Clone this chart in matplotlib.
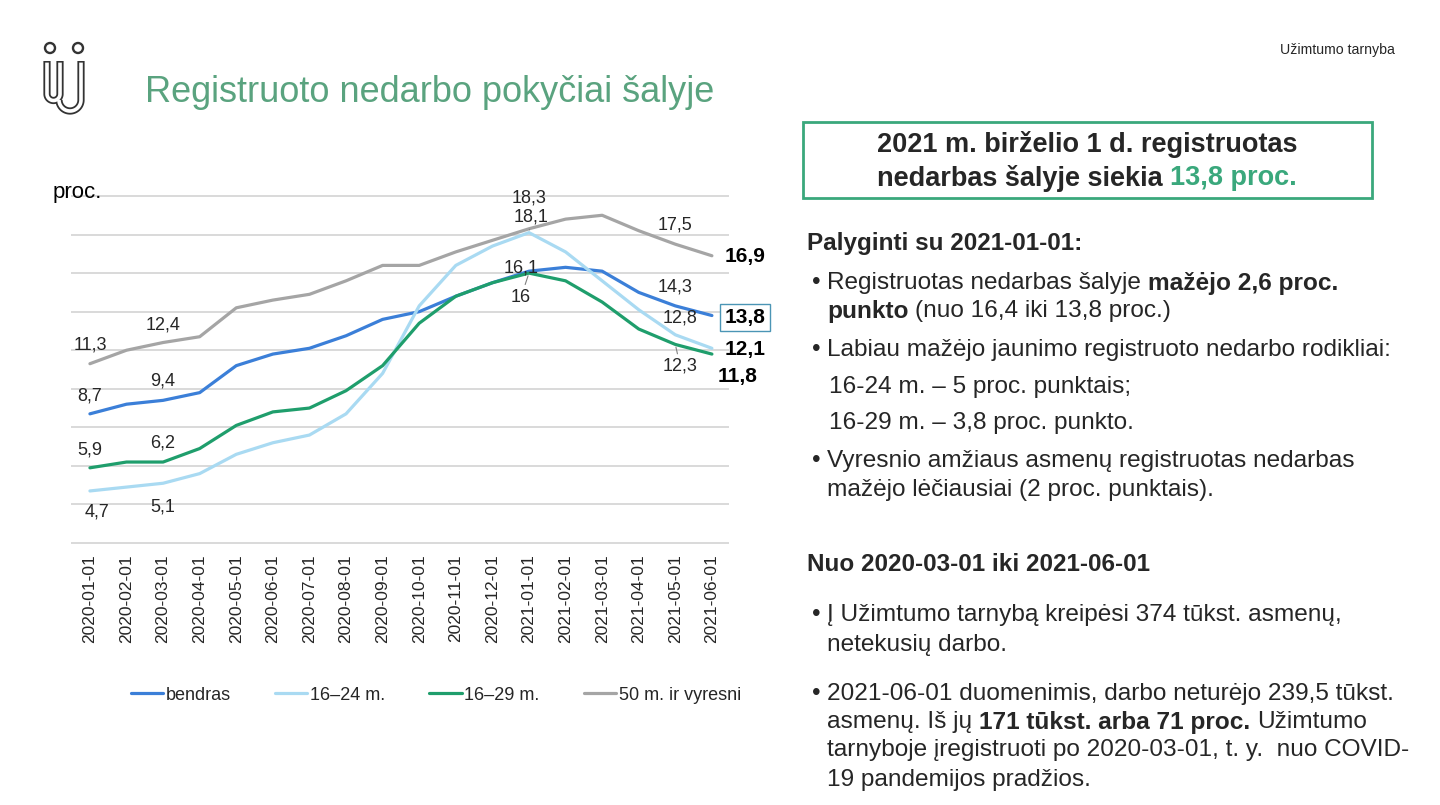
import numpy as np
import matplotlib.pyplot as plt
from matplotlib.patches import Rectangle, Circle

plt.rcParams["font.family"] = ["Liberation Sans", "DejaVu Sans"]

# ---- data ----
dates = ["2020-01-01", "2020-02-01", "2020-03-01", "2020-04-01", "2020-05-01",
         "2020-06-01", "2020-07-01", "2020-08-01", "2020-09-01", "2020-10-01",
         "2020-11-01", "2020-12-01", "2021-01-01", "2021-02-01", "2021-03-01",
         "2021-04-01", "2021-05-01", "2021-06-01"]
bendras = [8.7, 9.2, 9.4, 9.8, 11.2, 11.8, 12.1, 12.75, 13.6, 14.0, 14.8, 15.5,
           16.1, 16.3, 16.1, 15.0, 14.3, 13.8]
m16_24 = [4.7, 4.9, 5.1, 5.6, 6.6, 7.2, 7.6, 8.7, 10.8, 14.3, 16.4, 17.4,
          18.1, 17.1, 15.6, 14.1, 12.8, 12.1]
m16_29 = [5.9, 6.2, 6.2, 6.9, 8.1, 8.8, 9.0, 9.9, 11.2, 13.4, 14.8, 15.5,
          16.0, 15.6, 14.5, 13.1, 12.3, 11.8]
m50 = [11.3, 12.0, 12.4, 12.7, 14.2, 14.6, 14.9, 15.6, 16.4, 16.4, 17.1, 17.7,
       18.3, 18.8, 19.0, 18.2, 17.5, 16.9]

series_names = ["bendras", "16\u201324 m.", "16\u201329 m.", "50 m. ir vyresni"]
series_vals = [bendras, m16_24, m16_29, m50]
series_colors = ["#3b7fd8", "#a9daf2", "#1f9e6c", "#a5a5a5"]

TXT = "#262626"
GREEN = "#3aa87c"

W, H = 1440, 805
fig = plt.figure(figsize=(W / 100, H / 100), dpi=100, facecolor="white")

# background axes in pixel coordinates
bg = fig.add_axes([0, 0, 1, 1])
bg.set_xlim(0, W)
bg.set_ylim(H, 0)
bg.axis("off")


def px_axes(left, top, right, bottom):
    return fig.add_axes([left / W, 1 - bottom / H, (right - left) / W, (bottom - top) / H])


# ---- chart ----
ax = px_axes(72, 196, 728, 543)
x = np.arange(len(dates))
for vals, name, col in zip(series_vals, series_names, series_colors):
    ax.plot(x, vals, color=col, lw=2.3, label=name, solid_capstyle="round", zorder=3)

ax.set_xlim(-0.49, 17.44)
ax.set_ylim(2, 20)
ax.set_yticks(np.arange(2, 21, 2))
ax.set_yticklabels([])
ax.tick_params(axis="y", length=0)
ax.set_xticks(x)
ax.set_xticklabels(dates, rotation=90, fontsize=12.5, color=TXT)
ax.tick_params(axis="x", length=0, pad=8)
ax.grid(axis="y", color="#d9d9d9", lw=1.4, clip_on=False)
for s in ax.spines.values():
    s.set_visible(False)
ax.set_facecolor("none")

# value labels: (series, point, text, dx, dy, bold, ha, leader)
labels = [
    (3, 0, "11,3", 0, 19, False, "center", False),
    (3, 2, "12,4", 0, 18, False, "center", False),
    (0, 0, "8,7", 0, 18, False, "center", False),
    (0, 2, "9,4", 0, 19, False, "center", False),
    (2, 0, "5,9", 0, 18, False, "center", False),
    (2, 2, "6,2", 0, 19, False, "center", False),
    (1, 0, "4,7", 7, -21, False, "center", False),
    (1, 2, "5,1", 0, -24, False, "center", False),
    (3, 12, "18,3", 0, 31, False, "center", False),
    (1, 12, "18,1", 2, 16, False, "center", True),
    (0, 12, "16,1", -8, 3, False, "center", False),
    (2, 12, "16", -8, -24, False, "center", True),
    (3, 16, "17,5", 0, 19, False, "center", False),
    (0, 16, "14,3", 0, 19, False, "center", False),
    (1, 16, "12,8", 5, 17, False, "center", False),
    (2, 16, "12,3", 5, -22, False, "center", True),
    (3, 17, "16,9", 13, -1, True, "left", False),
    (0, 17, "13,8", 33, -2, True, "center", False),
    (1, 17, "12,1", 13, -1, True, "left", False),
    (2, 17, "11,8", 6, -22, True, "left", False),
]
for si, pi, txt, dx, dy, bold, ha, leader in labels:
    kw = dict(xy=(pi, series_vals[si][pi]), xytext=(dx, dy), textcoords="offset pixels",
              ha=ha, va="center", color="black" if bold else TXT,
              fontsize=15 if bold else 13, fontweight="bold" if bold else "normal",
              annotation_clip=False, zorder=5)
    if leader:
        kw["arrowprops"] = dict(arrowstyle="-", color="#808080", lw=0.8, shrinkA=1, shrinkB=2)
    if txt == "13,8":
        kw["bbox"] = dict(boxstyle="square,pad=0.2", fc="white", ec="#4b95b5", lw=1.0)
    ax.annotate(txt, **kw)

fig.text(53 / W, 1 - 192 / H, "proc.", fontsize=16, color="black", va="center", ha="left")

fig.legend(loc="center", bbox_to_anchor=(436 / W, 1 - 695 / H), ncol=4, frameon=False,
           fontsize=13, handlelength=1.78, handletextpad=0.15, columnspacing=2.45,
           labelcolor=TXT)

# ---- slide decorations ----
# logo (outlined strokes: dark thick line with a white core)
t = np.linspace(np.pi, 2 * np.pi, 40)
u_x = np.r_[47, 47, 53.5 - 6.5 * np.cos(t - np.pi), 60, 60]
u_y = np.r_[61, 94, 94 - 6.5 * np.sin(t), 94, 61]
j_x = np.r_[81, 81, 70 + 11 * np.cos(np.linspace(0, np.pi, 40))]
j_y = np.r_[61, 100, 100 + 11 * np.sin(np.linspace(0, np.pi, 40))]
for xs, ys in ((u_x, u_y), (j_x, j_y)):
    bg.plot(xs, ys, color="#333333", lw=5.2, solid_joinstyle="round", solid_capstyle="butt")
for xs, ys in ((u_x, u_y), (j_x, j_y)):
    ys = ys.copy()
    ys[0] += 1.6
    if ys[-1] < 70:
        ys[-1] += 1.6
    bg.plot(xs, ys, color="white", lw=2.6, solid_joinstyle="round", solid_capstyle="butt")
for cx in (50, 78):
    bg.add_patch(Circle((cx, 48), 5, fill=False, ec="#333333", lw=1.7))

bg.text(145, 92, "Registruoto nedarbo poky\u010diai \u0161alyje", fontsize=26,
        color="#5aa37f", va="center", ha="left")
bg.text(1280, 50, "U\u017eimtumo tarnyba", fontsize=10.2, color=TXT, va="center", ha="left")

renderer = fig.canvas.get_renderer()


def runs(x0, y, parts, size, ha="left"):
    """parts: list of (text, bold, color); draws consecutive runs on one line."""
    arts = []
    xx = x0
    space = size * 0.278 * 100 / 72
    for txt, bold, col in parts:
        if txt.startswith(" "):
            xx += space
        tt = bg.text(xx, y, txt.strip(), fontsize=size, color=col, va="center", ha="left",
                     fontweight="bold" if bold else "normal")
        xx += tt.get_window_extent(renderer=renderer).width
        if txt.endswith(" "):
            xx += space
        arts.append(tt)
    if ha == "center":
        shift = (xx - x0) / 2
        for tt in arts:
            px, py = tt.get_position()
            tt.set_position((px - shift, py))


# highlight box
bg.add_patch(Rectangle((803, 122), 569, 76, fill=False, ec=GREEN, lw=2.0))
runs(1087, 145, [("2021 m. bir\u017eelio 1 d. registruotas", True, TXT)], 19.5, ha="center")
runs(1087, 178, [("nedarbas \u0161alyje siekia ", True, TXT), ("13,8 proc.", True, GREEN)],
     19.5, ha="center")

FS = 17.6
FH = 17.5
BX, TX = 812, 827


def bullet(y):
    bg.text(BX, y, "\u2022", fontsize=FS, color=TXT, va="center", ha="left")


runs(807, 243, [("Palyginti su 2021-01-01:", True, TXT)], FH)
bullet(283)
runs(TX, 283, [("Registruotas nedarbas \u0161alyje ", False, TXT),
               ("ma\u017e\u0117jo 2,6 proc.", True, TXT)], FS)
runs(TX, 311, [("punkto", True, TXT), (" (nuo 16,4 iki 13,8 proc.)", False, TXT)], FS)
bullet(350)
runs(TX, 350, [("Labiau ma\u017e\u0117jo jaunimo registruoto nedarbo rodikliai:", False, TXT)], FS)
runs(829, 387, [("16-24 m. \u2013 5 proc. punktais;", False, TXT)], FS)
runs(829, 423, [("16-29 m. \u2013 3,8 proc. punkto.", False, TXT)], FS)
bullet(461)
runs(TX, 461, [("Vyresnio am\u017eiaus asmen\u0173 registruotas nedarbas", False, TXT)], FS)
runs(TX, 490, [("ma\u017e\u0117jo l\u0117\u010diausiai (2 proc. punktais).", False, TXT)], FS)

runs(807, 564, [("Nuo 2020-03-01 iki 2021-06-01", True, TXT)], FH)
bullet(615)
runs(TX, 615, [("\u012e U\u017eimtumo tarnyb\u0105 kreip\u0117si 374 t\u016bkst. asmen\u0173,", False, TXT)], FS)
runs(TX, 645, [("netekusi\u0173 darbo.", False, TXT)], FS)
bullet(694)
runs(TX, 694, [("2021-06-01 duomenimis, darbo netur\u0117jo 239,5 t\u016bkst.", False, TXT)], FS)
runs(TX, 722, [("asmen\u0173. I\u0161 j\u0173 ", False, TXT), ("171 t\u016bkst. arba 71 proc.", True, TXT),
               (" U\u017eimtumo", False, TXT)], FS)
runs(TX, 750, [("tarnyboje \u012fregistruoti po 2020-03-01, t. y.  nuo COVID-", False, TXT)], FS)
runs(TX, 780, [("19 pandemijos prad\u017eios.", False, TXT)], FS)

fig.savefig("out.png", dpi=100, facecolor="white")
